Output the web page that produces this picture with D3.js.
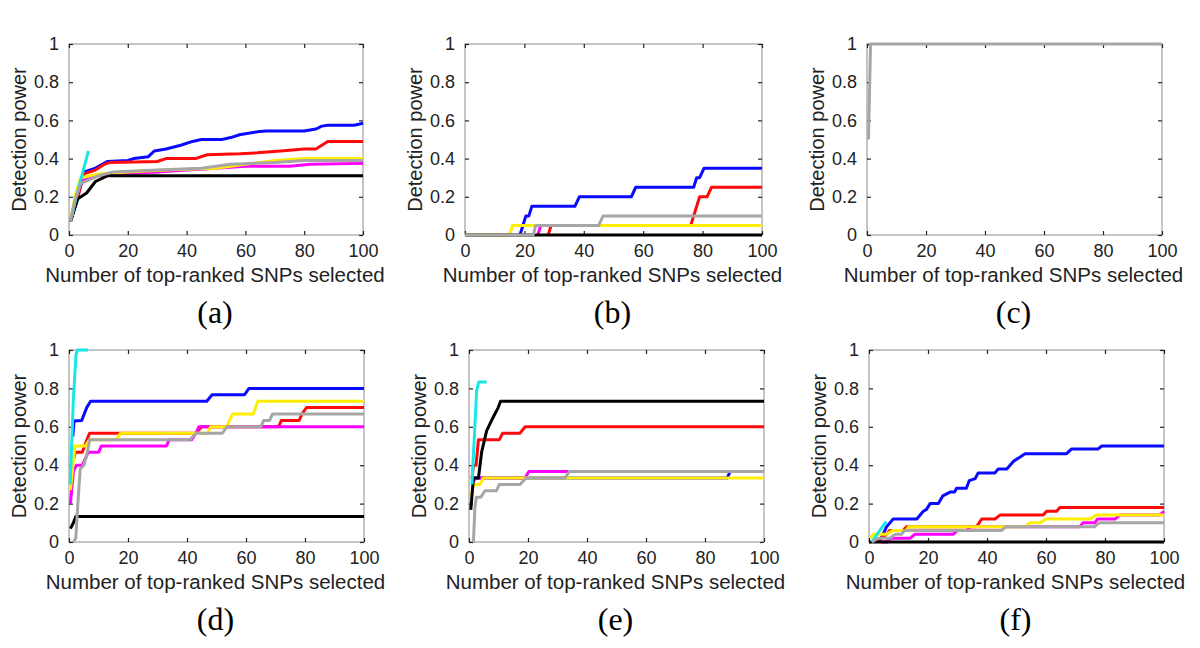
<!DOCTYPE html>
<html>
<head>
<meta charset="utf-8">
<script src="https://cdn.jsdelivr.net/npm/d3@7"></script>
<style>
  html, body { margin: 0; padding: 0; background: #ffffff; }
  svg { display: block; }
</style>
</head>
<body>
<svg id="chart" width="1200" height="648"></svg>
<script>
// ---------------- DATA ----------------
const xTicks = [0, 20, 40, 60, 80, 100];
const xTickLabels = ["0", "20", "40", "60", "80", "100"];
const yTicks = [0, 0.2, 0.4, 0.6, 0.8, 1];
const yTickLabels = ["0", "0.2", "0.4", "0.6", "0.8", "1"];
const panelLabels = ["(a)", "(b)", "(c)", "(d)", "(e)", "(f)"];
const xAxisTitle = "Number of top-ranked SNPs selected";
const yAxisTitle = "Detection power";
const seriesNames = ["blue", "red", "magenta", "yellow", "black", "cyan", "gray"];

// Panel (a)
const aBlue = [[0.5,0.07],[3,0.2],[5.2,0.33],[9,0.35],[13,0.385],[20,0.39],[22,0.4],[27,0.41],[29,0.44],[33,0.45],[38,0.47],[42,0.49],[45,0.5],[52,0.5],[55,0.51],[58,0.525],[60,0.53],[64,0.54],[67,0.545],[80,0.545],[84,0.555],[86,0.57],[88,0.575],[97,0.575],[100,0.585]];
const aRed = [[0.5,0.07],[3,0.2],[5,0.32],[9,0.34],[12,0.37],[14,0.38],[30,0.385],[33,0.4],[43,0.4],[47,0.42],[58,0.425],[64,0.43],[72,0.44],[80,0.45],[84,0.45],[86,0.47],[88,0.49],[100,0.49]];
const aMagenta = [[0.5,0.07],[2,0.18],[4,0.28],[10,0.31],[17,0.32],[30,0.33],[40,0.34],[50,0.35],[60,0.36],[75,0.36],[82,0.37],[100,0.375]];
const aYellow = [[0.5,0.07],[2,0.2],[4,0.3],[10,0.32],[20,0.33],[33,0.34],[50,0.35],[60,0.37],[65,0.38],[70,0.39],[80,0.4],[100,0.4]];
const aBlack = [[0.5,0.07],[3,0.19],[6,0.22],[9,0.28],[13,0.31],[100,0.31]];
const aCyan = [[1,0.1],[2.3,0.19],[6.6,0.44]];
const aGray = [[0.5,0.07],[2,0.18],[4,0.27],[10,0.31],[15,0.33],[30,0.34],[45,0.35],[55,0.37],[70,0.38],[80,0.39],[100,0.39]];

// Panel (b)
const bBlue = [[18.5,0],[19.5,0.05],[20.5,0.1],[21.5,0.1],[22.5,0.15],[37,0.15],[38.5,0.2],[56,0.2],[57.5,0.25],[77,0.25],[78,0.3],[79,0.3],[80.5,0.35],[100,0.35]];
const bRed = [[28,0],[29,0.05],[76,0.05],[77,0.1],[79,0.2],[81.5,0.2],[83,0.25],[100,0.25]];
const bMagenta = [[24.5,0],[25.5,0.05],[45,0.05]];
const bYellow = [[0,0],[15,0],[16,0.05],[100,0.05]];
const bBlack = [[0,0],[100,0]];
const bCyan = [];
const bGray = [[0,0],[23,0],[23.8,0.05],[45,0.05],[46.5,0.1],[100,0.1]];

// Panel (c) — every method reaches power 1; only the gray curve shows on top
const cBlue = [];
const cRed = [];
const cMagenta = [];
const cYellow = [];
const cBlack = [];
const cCyan = [];
const cGray = [[0.5,0.5],[1.2,1],[100,1]];

// Panel (d)
const dBlue = [[1.3,0.55],[1.7,0.63],[4.3,0.633],[6,0.7],[7.3,0.733],[46.7,0.733],[48.5,0.767],[59.5,0.767],[61,0.8],[100,0.8]];
const dRed = [[1.5,0.43],[2.2,0.467],[4.5,0.467],[6,0.53],[7,0.567],[43,0.567],[45,0.6],[71,0.6],[72,0.633],[78,0.633],[79,0.667],[80.5,0.7],[100,0.7]];
const dMagenta = [[0.5,0.2],[1.5,0.37],[2.5,0.4],[4.5,0.4],[5.5,0.433],[6.5,0.467],[10,0.467],[11,0.5],[33,0.5],[34,0.533],[41.6,0.533],[43,0.567],[44,0.6],[100,0.6]];
const dYellow = [[0.5,0.27],[2,0.5],[5.5,0.5],[7,0.533],[16,0.533],[17.5,0.567],[47,0.567],[48,0.6],[53.4,0.6],[55.5,0.667],[62.5,0.667],[64,0.733],[100,0.733]];
const dBlack = [[0.5,0.07],[1.5,0.1],[2.3,0.133],[100,0.133]];
const dCyan = [[0.4,0.3],[1.5,0.75],[2.4,0.98],[3,1],[6.5,1]];
const dGray = [[1.5,0],[2.3,0.02],[3,0.2],[3.8,0.38],[5,0.4],[6,0.45],[7,0.533],[41,0.533],[43,0.567],[52,0.567],[53.5,0.6],[65,0.6],[66,0.633],[68,0.633],[69,0.667],[100,0.667]];

// Panel (e)
const eBlue = [[1,0.3],[2,0.333],[87.5,0.333],[88.5,0.367],[100,0.367]];
const eRed = [[1,0.33],[1.5,0.4],[2.4,0.4],[3.2,0.533],[10.3,0.533],[11.4,0.567],[17.3,0.567],[19,0.6],[100,0.6]];
const eMagenta = [[1,0.3],[2,0.333],[19,0.333],[20.3,0.367],[100,0.367]];
const eYellow = [[0.7,0.236],[1.5,0.3],[3.7,0.3],[4.9,0.333],[100,0.333]];
const eBlack = [[0.6,0.167],[1.5,0.333],[3.2,0.333],[4.3,0.47],[6,0.58],[8.2,0.65],[9.9,0.7],[10.7,0.733],[100,0.733]];
const eCyan = [[1,0.3],[2.6,0.79],[3.3,0.833],[6,0.833]];
const eGray = [[1.5,0],[2,0.18],[2.5,0.233],[4,0.233],[5.4,0.267],[9.3,0.267],[10.3,0.3],[17.3,0.3],[19.4,0.333],[32.5,0.333],[34,0.367],[100,0.367]];

// Panel (f)
const fBlue = [[3.5,0],[6,0.08],[8.2,0.12],[16.2,0.12],[18.4,0.16],[19.5,0.17],[20.7,0.2],[23.5,0.2],[25,0.24],[27.5,0.26],[29,0.26],[29.7,0.28],[33,0.28],[34,0.32],[36,0.33],[37,0.36],[42.7,0.36],[43.8,0.38],[46.7,0.38],[49,0.42],[52.9,0.46],[67,0.46],[68.7,0.485],[77.7,0.485],[78.9,0.5],[100,0.5]];
const fRed = [[2.5,0],[4,0.02],[6,0.04],[7,0.06],[11.5,0.06],[12.8,0.08],[36.5,0.08],[38.2,0.12],[42.7,0.12],[44.4,0.14],[59,0.14],[60.2,0.16],[63.6,0.16],[64.7,0.18],[100,0.18]];
const fMagenta = [[4,0],[6,0],[7.5,0.02],[14,0.02],[15.5,0.04],[28.5,0.04],[30,0.06],[33,0.06],[34.5,0.08],[71.5,0.08],[72.5,0.1],[76.5,0.1],[77.5,0.12],[83.5,0.12],[85,0.14],[98.5,0.14],[100,0.16]];
const fYellow = [[0.5,0.02],[1.5,0.04],[6,0.04],[8,0.06],[12.5,0.06],[13.5,0.08],[53,0.08],[54.5,0.1],[58,0.1],[60,0.12],[75,0.12],[77,0.14],[100,0.14]];
const fBlack = [[0,0],[100,0]];
const fCyan = [[0.9,0],[5.8,0.106]];
const fGray = [[1,0],[3,0.02],[7,0.02],[9,0.04],[11,0.04],[12,0.06],[45,0.06],[46.5,0.08],[76.5,0.08],[78,0.1],[100,0.1]];

// ---------------- LAYOUT / STYLE ----------------
const seriesColors = {
  blue: "#0a0aff", red: "#ff0a0a", magenta: "#ff00ff", yellow: "#ffee00",
  black: "#000000", cyan: "#19e6e6", gray: "#a6a6a6"
};
const panelBoxes = [
  {x0: 69, x1: 363, y0: 44, y1: 235},
  {x0: 465, x1: 762, y0: 44, y1: 235},
  {x0: 867, x1: 1162, y0: 44, y1: 235},
  {x0: 69, x1: 364, y0: 350, y1: 542},
  {x0: 469, x1: 764, y0: 350, y1: 542},
  {x0: 869, x1: 1164, y0: 350, y1: 542}
];
const panelSeries = [
  [aBlue, aRed, aMagenta, aYellow, aBlack, aCyan, aGray],
  [bBlue, bRed, bMagenta, bYellow, bBlack, bCyan, bGray],
  [cBlue, cRed, cMagenta, cYellow, cBlack, cCyan, cGray],
  [dBlue, dRed, dMagenta, dYellow, dBlack, dCyan, dGray],
  [eBlue, eRed, eMagenta, eYellow, eBlack, eCyan, eGray],
  [fBlue, fRed, fMagenta, fYellow, fBlack, fCyan, fGray]
];

const svg = d3.select("#chart");
const sansFont = "'Liberation Sans', Arial, sans-serif";
const serifFont = "'Liberation Serif', 'Times New Roman', serif";
const textColor = "#222";
const frameColor = "#8c8c8c";
const tickColor = "#222";

panelBoxes.forEach((b, i) => {
  const x = d3.scaleLinear().domain([0, 100]).range([b.x0, b.x1]);
  const y = d3.scaleLinear().domain([0, 1]).range([b.y1, b.y0]);
  const g = svg.append("g");

  // frame
  g.append("rect")
    .attr("x", b.x0).attr("y", b.y0)
    .attr("width", b.x1 - b.x0).attr("height", b.y1 - b.y0)
    .attr("fill", "none").attr("stroke", frameColor).attr("stroke-width", 1);

  const tk = 4;
  const bottom = g.append("g").attr("transform", `translate(0,${b.y1})`)
    .call(d3.axisBottom(x).tickValues(xTicks).tickFormat((d, k) => xTickLabels[k]).tickSizeInner(-tk).tickSizeOuter(0).tickPadding(9));
  const left = g.append("g").attr("transform", `translate(${b.x0},0)`)
    .call(d3.axisLeft(y).tickValues(yTicks).tickFormat((d, k) => yTickLabels[k]).tickSizeInner(-tk).tickSizeOuter(0).tickPadding(10));
  const top = g.append("g").attr("transform", `translate(0,${b.y0})`)
    .call(d3.axisTop(x).tickValues(xTicks).tickFormat("").tickSizeInner(-tk).tickSizeOuter(0));
  const right = g.append("g").attr("transform", `translate(${b.x1},0)`)
    .call(d3.axisRight(y).tickValues(yTicks).tickFormat("").tickSizeInner(-tk).tickSizeOuter(0));
  [bottom, left, top, right].forEach(a => {
    a.select(".domain").remove();
    a.selectAll(".tick line").attr("stroke", tickColor).attr("stroke-width", 1.2);
    a.selectAll(".tick text").attr("fill", textColor)
      .style("font-family", sansFont).style("font-size", "18px");
  });

  // lines
  const line = d3.line().x(d => x(d[0])).y(d => y(d[1])).curve(d3.curveLinear);
  panelSeries[i].forEach((data, k) => {
    if (!data.length) return;
    g.append("path")
      .datum(data)
      .attr("d", line)
      .attr("fill", "none")
      .attr("stroke", seriesColors[seriesNames[k]])
      .attr("stroke-width", 3)
      .attr("stroke-linejoin", "round")
      .attr("stroke-linecap", "butt");
  });

  const cx = (b.x0 + b.x1) / 2;
  const cy = (b.y0 + b.y1) / 2;
  // axis titles
  g.append("text")
    .attr("x", cx - 1).attr("y", b.y1 + 47)
    .attr("text-anchor", "middle")
    .style("font-family", sansFont).style("font-size", "20.5px")
    .attr("fill", textColor)
    .text(xAxisTitle);
  g.append("text")
    .attr("transform", `translate(${b.x0 - 43},${cy}) rotate(-90)`)
    .attr("text-anchor", "middle")
    .style("font-family", sansFont).style("font-size", "20px")
    .attr("fill", textColor)
    .text(yAxisTitle);
  // panel label
  g.append("text")
    .attr("x", cx - 1).attr("y", b.y1 + 88)
    .attr("text-anchor", "middle")
    .style("font-family", serifFont).style("font-size", "32px")
    .attr("fill", "#000")
    .text(panelLabels[i]);
});
</script>
</body>
</html>
